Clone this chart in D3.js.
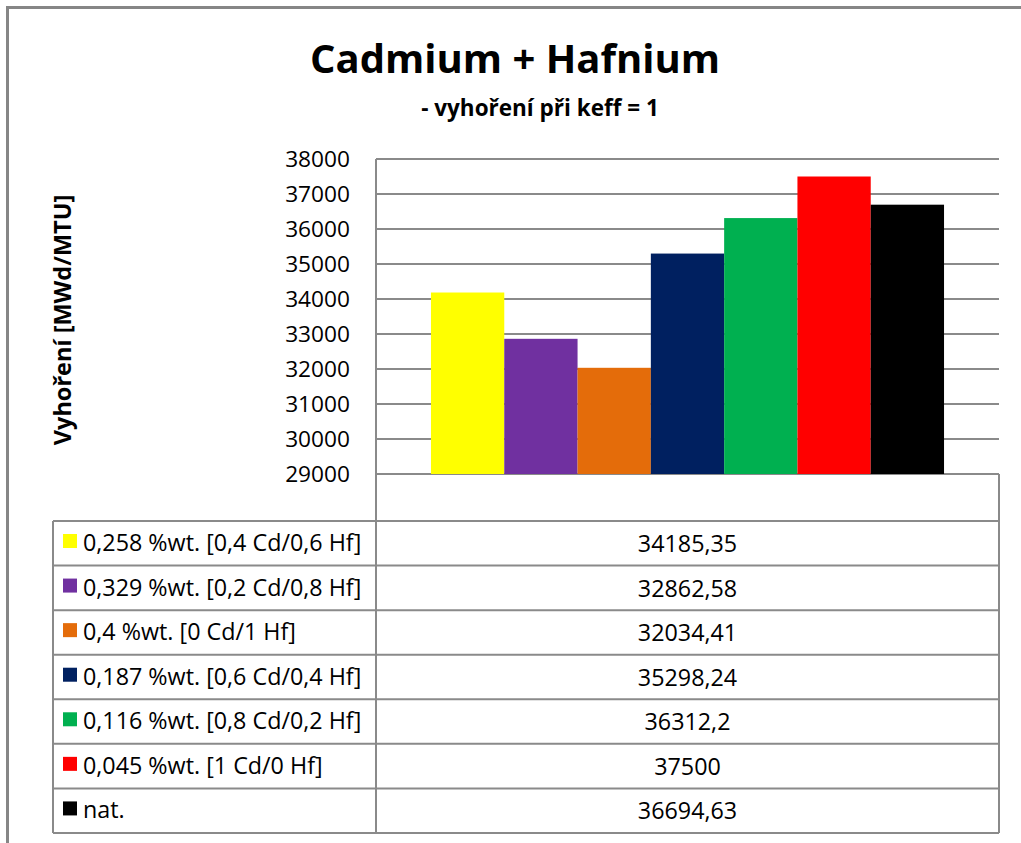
<!DOCTYPE html>
<html>
<head>
<meta charset="utf-8">
<script src="https://cdn.jsdelivr.net/npm/d3@7"></script>
<style>
  html, body { margin: 0; padding: 0; background: #fff; }
  svg { display: block; font-family: "Open Sans", Lato, sans-serif; }
</style>
</head>
<body>
<svg id="chart" width="1021" height="843"></svg>
<script>
// Series shown as bars and as rows of the data table
const seriesNames = [
  "0,258 %wt. [0,4 Cd/0,6 Hf]",
  "0,329 %wt. [0,2 Cd/0,8 Hf]",
  "0,4 %wt. [0 Cd/1 Hf]",
  "0,187 %wt. [0,6 Cd/0,4 Hf]",
  "0,116 %wt. [0,8 Cd/0,2 Hf]",
  "0,045 %wt. [1 Cd/0 Hf]",
  "nat."
];
const seriesValues = [34185.35, 32862.58, 32034.41, 35298.24, 36312.2, 37500, 36694.63];
const valueLabels = ["34185,35", "32862,58", "32034,41", "35298,24", "36312,2", "37500", "36694,63"];
const seriesColors = ["#FFFF00", "#7030A0", "#E46C0A", "#002060", "#00B050", "#FF0000", "#000000"];
const yTicks = [29000, 30000, 31000, 32000, 33000, 34000, 35000, 36000, 37000, 38000];
const titleText = "Cadmium + Hafnium";
const subtitleText = "- vyhoření při keff = 1";
const yAxisTitle = "Vyhoření [MWd/MTU]";

const svg = d3.select("#chart");
const gridColor = "#8a8a8a";
const font = "'Open Sans', Lato, sans-serif";
const bodySize = 23.3;

// Plot area and table geometry
const plot = { left: 376, top: 159, right: 999, bottom: 474 };
const table = { left: 53, headerBottom: 521, bottom: 833 };
const rowH = (table.bottom - table.headerBottom) / seriesNames.length;

// Outer chart frame
svg.append("rect")
  .attr("x", 7.5).attr("y", 7.5)
  .attr("width", 1040).attr("height", 900)
  .attr("fill", "none")
  .attr("stroke", "#868686")
  .attr("stroke-width", 3);

// Titles
svg.append("text")
  .attr("x", 515).attr("y", 73)
  .attr("text-anchor", "middle")
  .attr("font-weight", "bold")
  .attr("font-size", 40)
  .text(titleText);
svg.append("text")
  .attr("x", 540).attr("y", 116)
  .attr("text-anchor", "middle")
  .attr("font-weight", "bold")
  .attr("font-size", 22.5)
  .text(subtitleText);

// Scales
const y = d3.scaleLinear().domain([29000, 38000]).range([plot.bottom, plot.top]);
const catWidth = plot.right - plot.left;
const gap = catWidth * 1.5 / (seriesNames.length + 1.5);
const x = d3.scaleBand()
  .domain(seriesNames)
  .range([plot.left + gap / 2, plot.right - gap / 2])
  .padding(0);

// Gridlines
svg.append("g")
  .selectAll("line")
  .data(yTicks)
  .join("line")
  .attr("x1", plot.left).attr("x2", plot.right)
  .attr("y1", d => y(d)).attr("y2", d => y(d))
  .attr("stroke", gridColor)
  .attr("stroke-width", 2);

// Y axis tick labels
const yAxis = d3.axisLeft(y).tickValues(yTicks).tickSize(0).tickPadding(26)
  .tickFormat(d3.format("d"));
const yg = svg.append("g")
  .attr("transform", `translate(${plot.left},0)`)
  .call(yAxis);
yg.select(".domain").remove();
yg.selectAll("text")
  .attr("font-family", font)
  .attr("font-size", 22.7)
  .attr("fill", "#000");

// Bars
svg.append("g")
  .selectAll("rect")
  .data(seriesNames.map((n, i) => ({ name: n, value: seriesValues[i], color: seriesColors[i] })))
  .join("rect")
  .attr("x", d => x(d.name))
  .attr("width", x.bandwidth())
  .attr("y", d => y(d.value))
  .attr("height", d => y(29000) - y(d.value))
  .attr("fill", d => d.color);

// Y axis title
svg.append("text")
  .attr("transform", "translate(71,320) rotate(-90)")
  .attr("text-anchor", "middle")
  .attr("font-weight", "bold")
  .attr("font-size", 23.5)
  .text(yAxisTitle);

// Data table
const tg = svg.append("g")
  .attr("stroke", gridColor)
  .attr("stroke-width", 2)
  .attr("fill", "none");
// vertical axis line extending through the table
tg.append("line").attr("x1", plot.left).attr("x2", plot.left)
  .attr("y1", plot.top).attr("y2", table.bottom);
// right edge of the table
tg.append("line").attr("x1", plot.right).attr("x2", plot.right)
  .attr("y1", plot.bottom).attr("y2", table.bottom);
// left edge of the legend column
tg.append("line").attr("x1", table.left).attr("x2", table.left)
  .attr("y1", table.headerBottom).attr("y2", table.bottom);
// horizontal row lines
const rowLines = d3.range(seriesNames.length + 1).map(i => table.headerBottom + i * rowH);
tg.selectAll("line.row")
  .data(rowLines)
  .join("line")
  .attr("class", "row")
  .attr("x1", table.left).attr("x2", plot.right)
  .attr("y1", d => d).attr("y2", d => d);

const rows = svg.append("g")
  .selectAll("g")
  .data(seriesNames.map((n, i) => ({ name: n, label: valueLabels[i], color: seriesColors[i], i })))
  .join("g")
  .attr("transform", d => `translate(0,${table.headerBottom + d.i * rowH})`);

rows.append("rect")
  .attr("x", 63).attr("y", 13)
  .attr("width", 14).attr("height", 14)
  .attr("fill", d => d.color);
rows.append("text")
  .attr("x", 83).attr("y", 30)
  .attr("font-size", bodySize)
  .text(d => d.name);
rows.append("text")
  .attr("x", (plot.left + plot.right) / 2).attr("y", 31)
  .attr("text-anchor", "middle")
  .attr("font-size", bodySize)
  .text(d => d.label);
</script>
</body>
</html>
